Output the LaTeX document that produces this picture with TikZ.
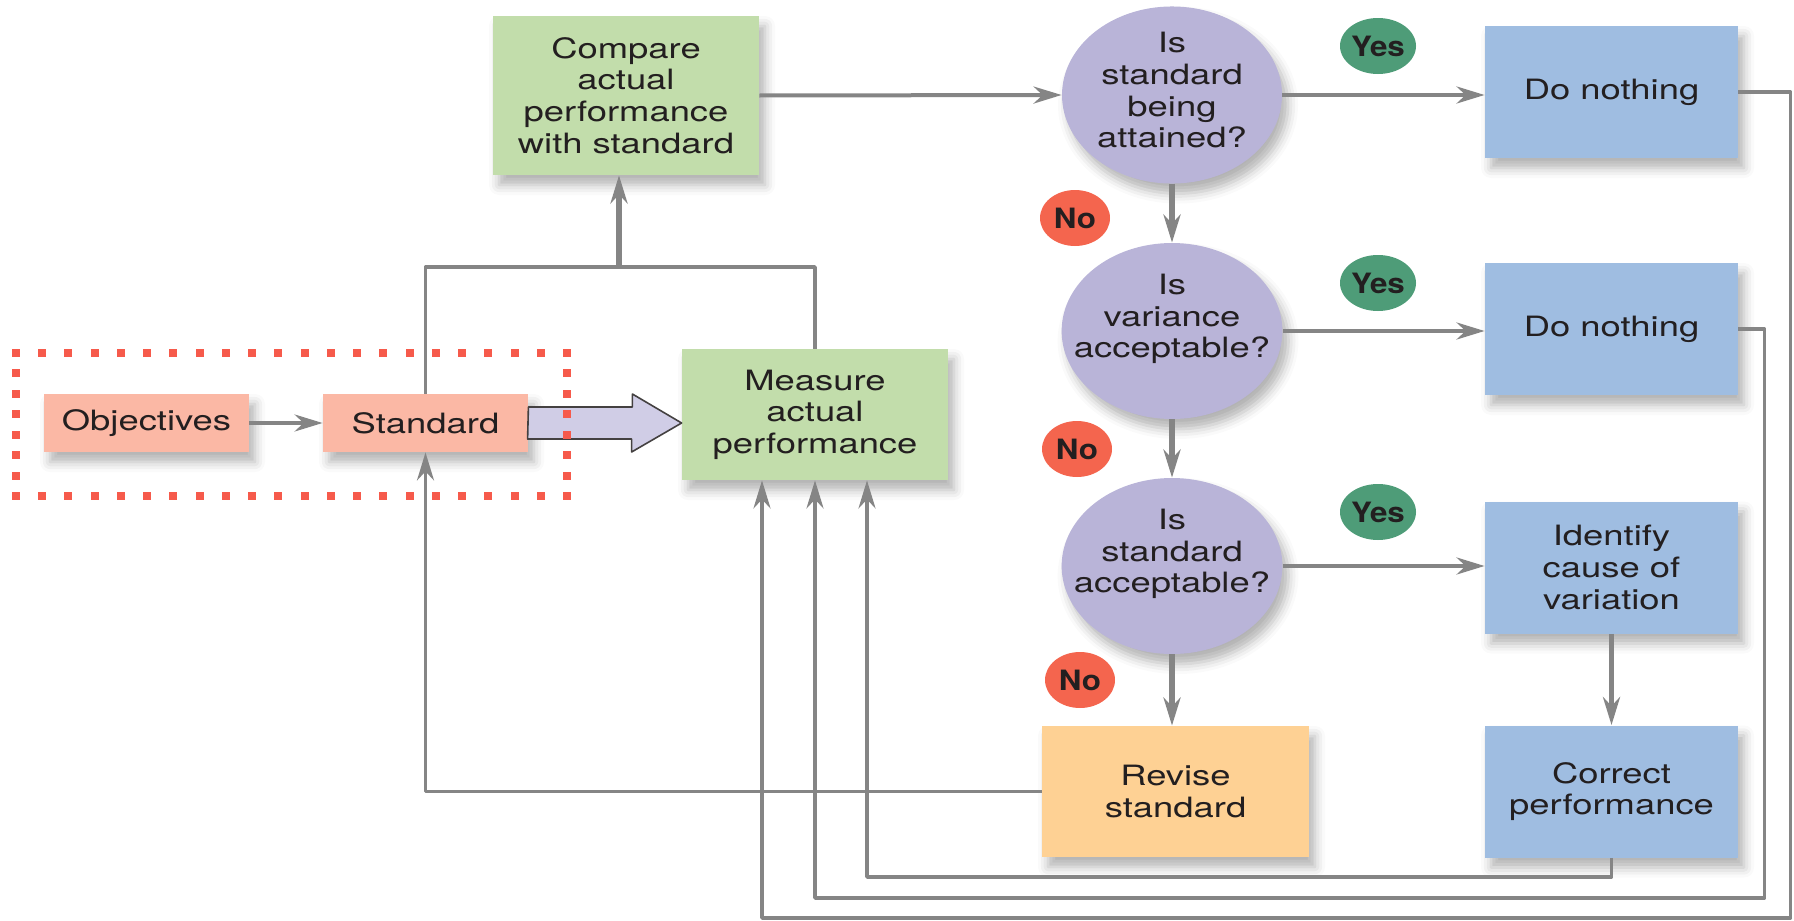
\documentclass[tikz,border=0pt]{standalone}
\usepackage{fontspec}
\setmainfont{TeX Gyre Heros}[FakeStretch=1.3]
\newfontfamily\tagfont{TeX Gyre Heros}[FakeStretch=1.12]
\usetikzlibrary{shapes.geometric,arrows.meta,shadows.blur}
\definecolor{ink}{HTML}{231F20}
\definecolor{wire}{HTML}{858585}
\definecolor{salmon}{HTML}{FBB8A5}
\definecolor{leaf}{HTML}{C2DDAB}
\definecolor{lilac}{HTML}{B9B4D8}
\definecolor{lilacpale}{HTML}{D0CDE6}
\definecolor{sky}{HTML}{9FBDE1}
\definecolor{peach}{HTML}{FED194}
\definecolor{pine}{HTML}{4E9C78}
\definecolor{tomato}{HTML}{F4654E}
\definecolor{framered}{HTML}{F65A4B}
\begin{document}
\begin{tikzpicture}[x=0.5pt, y=-0.5pt, line join=round,
    >={Stealth[length=14pt,width=8.5pt,inset=4.5pt]},
    every node/.style={font=\fontsize{14}{15.8}\selectfont, text=ink, align=center, inner sep=0pt},
    softshadow/.style={blur shadow={shadow xshift=3pt, shadow yshift=-5pt, shadow blur radius=5pt, shadow opacity=30}},
    goal/.style={rectangle, fill=salmon, softshadow, minimum width=102.5pt, minimum height=29pt},
    stepbox/.style={rectangle, fill=leaf, softshadow, minimum width=133pt},
    query/.style={ellipse, fill=lilac, softshadow, inner xsep=-10pt, minimum width=110pt, minimum height=88pt},
    act/.style={rectangle, fill=sky, softshadow, minimum width=126.5pt, minimum height=66pt},
    tag/.style={ellipse, minimum width=35pt, minimum height=28pt, font=\tagfont\bfseries\fontsize{14}{14}\selectfont},
    yestag/.style={tag, fill=pine},
    notag/.style={tag, fill=tomato},
    link/.style={draw=wire, line width=1.8pt},
    flow/.style={link, ->},
    bigflow/.style={flow, line width=2.8pt},
  ]
  \useasboundingbox (0,0) rectangle (1794,921);

  % boxes
  \node[goal] (obj) at (146.5,423) {Objectives};
  \node[goal] (std) at (425.5,423) {Standard};
  \node[stepbox, minimum height=79.5pt] (cmp) at (626,95.5) {Compare\\actual\\performance\\with standard};
  \node[stepbox, minimum height=65.5pt] (meas) at (815,414.5) {Measure\\actual\\performance};
  \node[query, text depth=5pt] (q1) at (1172,95) {Is\\standard\\being\\attained?};
  \node[query, text depth=15pt] (q2) at (1172,331) {Is\\variance\\acceptable?};
  \node[query, text depth=15pt] (q3) at (1172,566) {Is\\standard\\acceptable?};
  \node[act] (dn1) at (1611.5,92) {Do nothing};
  \node[act] (dn2) at (1611.5,329) {Do nothing};
  \node[act] (idf) at (1611.5,567.5) {Identify\\cause of\\variation};
  \node[act] (cor) at (1611.5,791.5) {Correct\\performance};
  \node[rectangle, fill=peach, softshadow, minimum width=133.5pt, minimum height=65.5pt] (rev) at (1175.5,791.5) {Revise\\standard};

  % yes / no
  \node[yestag] (y1) at (1378,46) {Yes};
  \node[yestag] (y2) at (1378,283) {Yes};
  \node[yestag] (y3) at (1378,512) {Yes};
  \node[notag] (n1) at (1075,218) {No};
  \node[notag] (n2) at (1077,449) {No};
  \node[notag] (n3) at (1080,680) {No};

  % connectors
  \draw[flow] (obj) -- (std);
  \coordinate (jn) at (619,267);
  \draw[link] (std.north) |- (jn) -| (meas.north);
  \draw[bigflow] (jn) -- (jn |- cmp.south);
  \draw[flow, line width=2pt] (cmp.east) -- (q1.west);
  \draw[flow, line width=2pt] (q1.east) -- (q1.east -| dn1.west);
  \draw[flow, line width=2pt] (q2.east) -- (q2.east -| dn2.west);
  \draw[flow, line width=2pt] (q3.east) -- (q3.east -| idf.west);
  \draw[bigflow] (q1) -- (q2);
  \draw[bigflow] (q2) -- (q3);
  \draw[bigflow] (q3.south) -- (q3.south |- rev.north);
  \draw[bigflow] (idf.south) -- (idf.south |- cor.north);

  % feedback
  \coordinate (r1) at (867,877);
  \coordinate (r2) at (815,898);
  \coordinate (r3) at (762,918);
  \draw[flow] (cor.south) |- (r1) -- (r1 |- meas.south);
  \draw[flow] (dn2.east) -- ++(26,0) |- (r2) -- (r2 |- meas.south);
  \draw[flow] (dn1.east) -- ++(52,0) |- (r3) -- (r3 |- meas.south);
  \draw[flow] (rev.west) -| (std.south);

  % hollow arrow
  \draw[fill=lilacpale, draw=ink!85, line width=0.8pt] (std.east) ++(0,-16) -- ++(104,0) -- ++(0,-13)
    -- (meas.west |- std.east) -- ++(-50,29) -- ++(0,-13) -- ++(-104,0) -- cycle;

  % dotted frame
  \foreach \i in {0,...,21} {
    \fill[framered] ({16+\i*26.24-4},349) rectangle ++(8,8);
    \fill[framered] ({16+\i*26.24-4},492) rectangle ++(8,8);
  }
  \foreach \j in {1,...,6} {
    \fill[framered] (12,{353+\j*20.43-4}) rectangle ++(8,8);
    \fill[framered] (563,{353+\j*20.43-4}) rectangle ++(8,8);
  }
\end{tikzpicture}
\end{document}
